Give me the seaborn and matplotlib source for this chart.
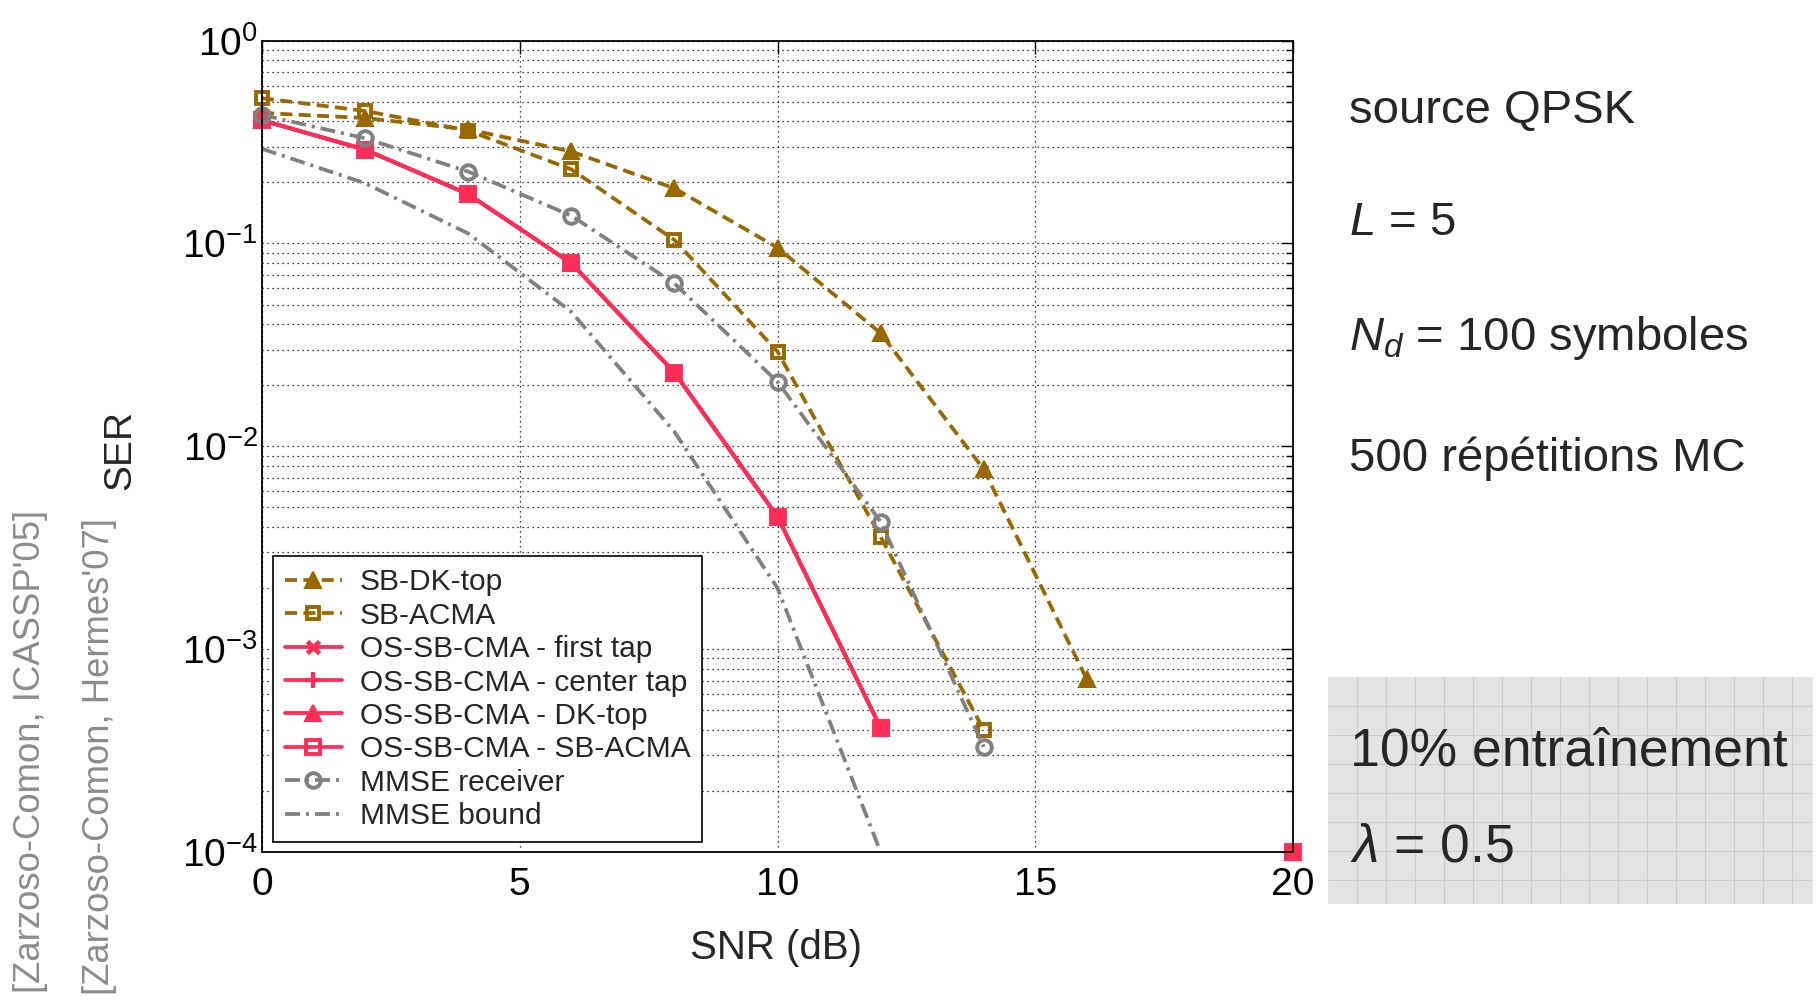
import numpy as np
import pandas as pd
import matplotlib
matplotlib.use("Agg")
import matplotlib.pyplot as plt
from matplotlib.ticker import LogLocator, NullFormatter, LogFormatterSciNotation, FixedLocator
import seaborn as sns

# ---- SER vs SNR data ----
snr_dk = [0, 2, 4, 6, 8, 10, 12, 14, 16]
ser_sb_dk_top = [0.44, 0.415, 0.365, 0.284, 0.187, 0.0953, 0.0361, 0.0077, 0.00071]

snr_acma = [0, 2, 4, 6, 8, 10, 12, 14]
ser_sb_acma = [0.52, 0.45, 0.36, 0.232, 0.104, 0.0293, 0.00358, 0.0004]

snr_os = [0, 2, 4, 6, 8, 10, 12, 20]
ser_os_sb_cma = [0.405, 0.29, 0.175, 0.0799, 0.0231, 0.0045, 0.00041, 0.0001]

snr_mmse = [0, 2, 4, 6, 8, 10, 12, 14]
ser_mmse_receiver = [0.43, 0.33, 0.226, 0.137, 0.0635, 0.0208, 0.00425, 0.00033]

snr_bound = [0, 2, 4, 6, 8, 10, 12]
ser_mmse_bound = [0.293, 0.198, 0.112, 0.046, 0.0118, 0.002, 0.0001]

x_ticks = [0, 5, 10, 15, 20]

side_notes = ["source QPSK", r"$L$ = 5", r"$N_d$ = 100 symboles", "500 répétitions MC"]
box_notes = ["10% entraînement", r"$\lambda$ = 0.5"]
refs = ["[Zarzoso-Comon, ICASSP'05]", "[Zarzoso-Comon, Hermes'07]"]

# ---- style ----
sns.set_style("white")
FONT = "Liberation Sans"
plt.rcParams["font.family"] = [FONT, "DejaVu Sans"]
plt.rcParams["mathtext.fontset"] = "custom"
plt.rcParams["mathtext.rm"] = FONT
plt.rcParams["mathtext.it"] = FONT + ":italic"
plt.rcParams["mathtext.bf"] = FONT + ":bold"
plt.rcParams["axes.unicode_minus"] = False

BROWN = "#9a6800"
RED = "#ff2d58"
GREY = "#808080"
LW = 2.7
DASH = (0, (3.2, 1.7))
DASHDOT = (0, (4.0, 1.6, 0.8, 1.6))

W, H = 1818, 1002
fig = plt.figure(figsize=(W / 100, H / 100), dpi=100)
ax = fig.add_axes([262 / W, 1 - 852 / H, (1293 - 262) / W, (852 - 40.6) / H])


def draw(x, y, **kw):
    df = pd.DataFrame({"snr": x, "ser": y})
    sns.lineplot(data=df, x="snr", y="ser", ax=ax, estimator=None,
                 sort=False, clip_on=False, **kw)


draw(snr_dk, ser_sb_dk_top, color=BROWN, lw=LW, linestyle=DASH, marker="^",
     markersize=11, markeredgewidth=1.5, markerfacecolor=BROWN,
     markeredgecolor=BROWN, label="SB-DK-top")
draw(snr_acma, ser_sb_acma, color=BROWN, lw=LW, linestyle=DASH, marker="s",
     markersize=8.5, markeredgewidth=2.8, markerfacecolor="none",
     markeredgecolor=BROWN, label="SB-ACMA")

os_arr = np.array(snr_os)
ser_os_arr = np.array(ser_os_sb_cma)
cont = os_arr <= 12
isolated = ~cont
red_variants = [
    ("OS-SB-CMA - first tap", dict(marker="x", markersize=9, markeredgewidth=3.4)),
    ("OS-SB-CMA - center tap", dict(marker="+", markersize=12, markeredgewidth=3)),
    ("OS-SB-CMA - DK-top", dict(marker="^", markersize=12, markeredgewidth=1.5,
                                markerfacecolor=RED)),
    ("OS-SB-CMA - SB-ACMA", dict(marker="s", markersize=10, markeredgewidth=2.8,
                                 markerfacecolor="none")),
]
for name, mk in red_variants:
    draw(os_arr[cont], ser_os_arr[cont], color=RED, lw=LW, linestyle="-",
         markeredgecolor=RED, label=name, **mk)
    draw(os_arr[isolated], ser_os_arr[isolated], color=RED, lw=LW, linestyle="-",
         markeredgecolor=RED, legend=False, **mk)

draw(snr_mmse, ser_mmse_receiver, color=GREY, lw=LW, linestyle=DASHDOT, marker="o",
     markersize=10.5, markeredgewidth=2.8, markerfacecolor="none",
     markeredgecolor=GREY, label="MMSE receiver")
draw(snr_bound, ser_mmse_bound, color=GREY, lw=LW, linestyle=DASHDOT,
     label="MMSE bound")

# ---- axes ----
ax.set_yscale("log")
ax.set_xlim(0, 20)
ax.set_ylim(1e-4, 1)
ax.xaxis.set_major_locator(FixedLocator(x_ticks))
ax.yaxis.set_major_locator(LogLocator(base=10, numticks=10))
ax.yaxis.set_minor_locator(LogLocator(base=10, subs=np.arange(2, 10), numticks=10))
ax.yaxis.set_minor_formatter(NullFormatter())
ax.yaxis.set_major_formatter(LogFormatterSciNotation())
ax.tick_params(which="both", direction="in", top=True, right=True,
               colors="black", labelsize=28, width=1.0)
ax.tick_params(which="major", length=9)
ax.tick_params(which="minor", length=5)
ax.tick_params(axis="x", pad=11)
ax.tick_params(axis="y", pad=3)
grid_kw = dict(color="black", linestyle=(0, (1, 3)), linewidth=0.9)
ax.grid(which="major", axis="both", **grid_kw)
ax.grid(which="minor", axis="y", **grid_kw)
ax.set_axisbelow(True)
for sp in ax.spines.values():
    sp.set_color("black")
    sp.set_linewidth(1.3)
ax.set_xlabel("")
ax.set_ylabel("")

fig.text(776 / W, 1 - 948 / H, "SNR (dB)", fontsize=29, ha="center", va="center")
fig.text(120 / W, 1 - 450 / H, "SER", fontsize=28, ha="center", va="center",
         rotation=90)

leg = ax.legend(loc="lower left", bbox_to_anchor=(11 / 1031, 10 / 811.4),
                borderaxespad=0, fontsize=21.5, frameon=True, fancybox=False,
                framealpha=1, edgecolor="black", handlelength=1.9,
                handletextpad=0.6, labelspacing=0.18, borderpad=0.4)
leg.get_frame().set_linewidth(1.2)

# ---- side notes ----
for txt, yb in zip(side_notes, [122.7, 235, 350, 470.7]):
    fig.text(1349 / W, 1 - yb / H, txt, fontsize=34, ha="left", va="baseline")

# shaded note box with light grid texture
bx0, bx1, by0, by1 = 1328, 1813, 677, 904
bax = fig.add_axes([bx0 / W, 1 - by1 / H, (bx1 - bx0) / W, (by1 - by0) / H])
bax.set_facecolor("#e3e3e3")
bax.set_xlim(0, bx1 - bx0)
bax.set_ylim(by1 - by0, 0)
for gx in np.arange(29, bx1 - bx0, 29):
    bax.axvline(gx, color="#cdcdcd", lw=0.8)
for gy in np.arange(29, by1 - by0, 29):
    bax.axhline(gy, color="#cdcdcd", lw=0.8)
bax.set_xticks([])
bax.set_yticks([])
for sp in bax.spines.values():
    sp.set_visible(False)
for txt, yb in zip(box_notes, [765, 862]):
    fig.text(1350 / W, 1 - yb / H, txt, fontsize=38.5, ha="left", va="baseline")

# ---- references ----
for txt, xc, ytop in zip(refs, [31, 100], [510, 518]):
    fig.text(xc / W, 1 - ytop / H, txt, fontsize=26.3, color="#8c8c8c",
             rotation=90, rotation_mode="anchor", ha="right", va="center")

fig.savefig("out.png", dpi=100)
